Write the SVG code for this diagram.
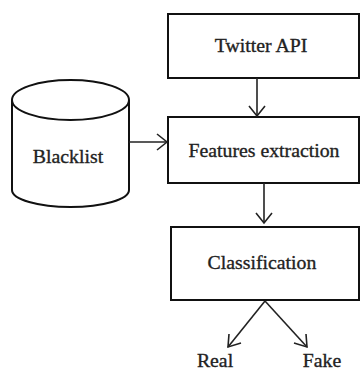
<svg xmlns="http://www.w3.org/2000/svg" width="360" height="371" viewBox="0 0 360 371">
<style>
.box{fill:#fff;stroke:#111;stroke-width:2}
.cyl{fill:#fff;stroke:#111;stroke-width:2}
.lbl{font-family:"Liberation Serif","Times New Roman",serif;font-size:19.8px;fill:#222;stroke:#222;stroke-width:0.35;text-anchor:middle}
.edge{fill:none;stroke:#222;stroke-width:1.6}
.head{fill:none;stroke:#222;stroke-width:1.6;stroke-linejoin:miter}
</style>
<rect width="360" height="371" fill="#fff"/>
<g id="twitter">
<rect class="box" x="168" y="14" width="191" height="64"/>
<text class="lbl" x="261" y="52">Twitter API</text>
</g>
<g id="features">
<rect class="box" x="168" y="117" width="191" height="66"/>
<text class="lbl" x="264" y="157">Features extraction</text>
</g>
<g id="blacklist">
<path class="cyl" d="M12,100 L12,190 A58.5,17 0 0 0 129,190 L129,100"/>
<ellipse class="cyl" cx="70.5" cy="100" rx="58.5" ry="20"/>
<text class="lbl" x="68" y="163">Blacklist</text>
</g>
<g id="classification">
<rect class="box" x="171" y="227" width="188" height="73"/>
<text class="lbl" x="262" y="269">Classification</text>
</g>
<g id="real"><text class="lbl" x="215" y="367">Real</text></g>
<g id="fake"><text class="lbl" x="322" y="367">Fake</text></g>
<g id="connectors">
<line class="edge" x1="257" y1="78" x2="257" y2="116"/>
<polyline class="head" points="249,106 257,116 265,106"/>
<line class="edge" x1="129" y1="142" x2="167" y2="142"/>
<polyline class="head" points="157,134 167,142 157,150"/>
<line class="edge" x1="264" y1="183" x2="264" y2="223"/>
<polyline class="head" points="256,213 264,223 272,213"/>
<line class="edge" x1="265" y1="301" x2="228" y2="347"/>
<polyline class="head" points="229,334 228,347 241,343"/>
<line class="edge" x1="265" y1="301" x2="307" y2="347"/>
<polyline class="head" points="294,343 307,347 306,334"/>
</g>
</svg>
